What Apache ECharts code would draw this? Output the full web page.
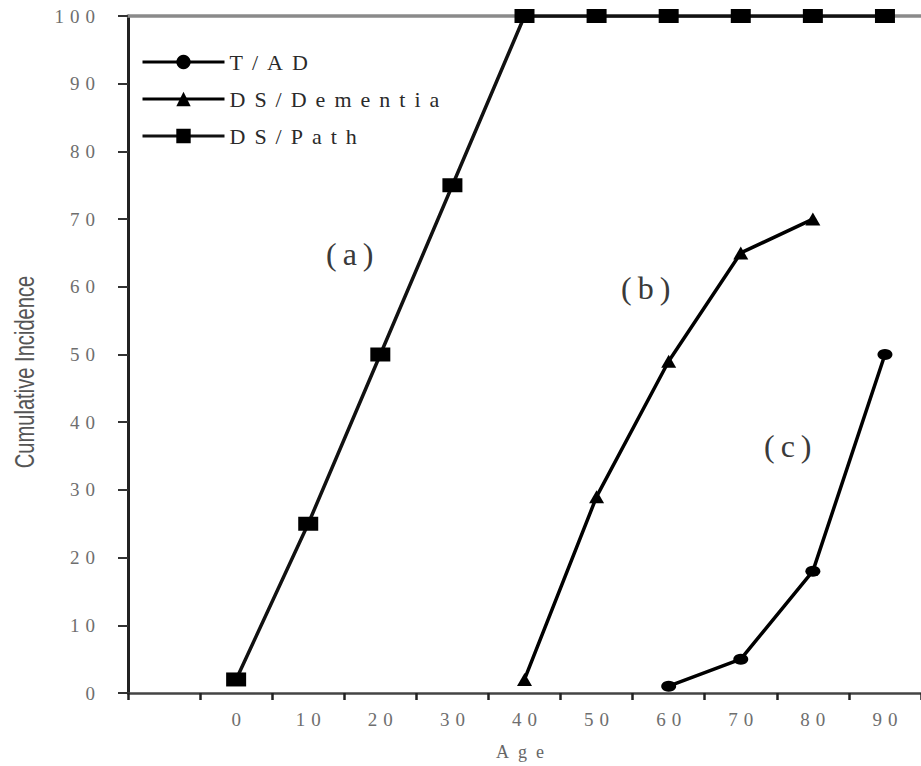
<!DOCTYPE html>
<html>
<head>
<meta charset="utf-8">
<script src="https://cdn.jsdelivr.net/npm/echarts@6/dist/echarts.min.js"></script>
<style>
  html, body { margin: 0; padding: 0; background: #fff; }
  #chart { width: 921px; height: 766px; }
  #chart svg text[style*="19px"] { letter-spacing: 6px; }
  #chart svg text[style*="22px"] { letter-spacing: 9px; }
  #chart svg text[style*="18px"] { letter-spacing: 9px; }
  #chart svg text[style*="32px"] { letter-spacing: 6px; }
</style>
</head>
<body>
<div id="chart"></div>
<script>
// Age categories (first band is an empty lead-in band)
const categories = ['', '0', '10', '20', '30', '40', '50', '60', '70', '80', '90'];
const seriesNames = ['T/AD', 'DS/Dementia', 'DS/Path'];
const tadValues      = [null, null, null, null, null, null, null, 1, 5, 18, 50];
const dementiaValues = [null, null, null, null, null, 2, 29, 49, 65, 70, null];
const pathValues     = [null, 2, 25, 50, 75, 100, 100, 100, 100, 100, 100];
const yTicks = [0, 10, 20, 30, 40, 50, 60, 70, 80, 90, 100];
const yTitle = 'Cumulative Incidence';
const annotations = ['(a)', '(b)', '(c)'];

const serif = '"Liberation Serif", "DejaVu Serif", serif';
const chart = echarts.init(document.getElementById('chart'), null, { renderer: 'svg' });

chart.setOption({
  backgroundColor: '#ffffff',
  animation: false,
  grid: { left: 128, right: -10, top: 16, bottom: 69, containLabel: false },
  legend: {
    orient: 'vertical',
    left: 136,
    top: 46,
    itemWidth: 82,
    itemHeight: 18,
    itemGap: 15,
    data: seriesNames,
    lineStyle: { width: 3 },
    textStyle: { fontFamily: serif, fontSize: 22, color: '#2a2a2a' },
    inactiveColor: '#333'
  },
  xAxis: [{
    type: 'category',
    data: categories,
    boundaryGap: true,
    name: 'Age',
    nameLocation: 'middle',
    nameGap: 50,
    nameTextStyle: { fontFamily: serif, fontSize: 18, color: '#666' },
    axisLine: { lineStyle: { color: '#444', width: 2.5 } },
    axisTick: { show: true, interval: 0, length: 7, lineStyle: { color: '#222', width: 2.5 } },
    axisLabel: { interval: 0, margin: 17, padding: [0, 0, 0, 6], fontFamily: serif, fontSize: 19, color: '#6e6e6e' },
    splitLine: { show: false }
  }, {
    type: 'category',
    data: categories,
    position: 'top',
    boundaryGap: true,
    axisLine: { show: true, lineStyle: { color: '#8a8a8a', width: 3.5 } },
    axisTick: { show: false },
    axisLabel: { show: false },
    splitLine: { show: false }
  }],
  yAxis: {
    type: 'value',
    min: yTicks[0],
    max: yTicks[yTicks.length - 1],
    interval: 10,
    axisLine: { show: true, lineStyle: { color: '#222', width: 3 } },
    axisTick: { show: true, length: 10, lineStyle: { color: '#333', width: 2 } },
    axisLabel: { margin: 27, fontFamily: serif, fontSize: 19, color: '#6e6e6e' },
    splitLine: { show: false }
  },
  series: [{
    name: seriesNames[0],
    type: 'line',
    data: tadValues,
    symbol: 'circle',
    symbolSize: [15, 11],
    itemStyle: { color: '#000' },
    lineStyle: { color: '#000', width: 3.5 },
    z: 5
  }, {
    name: seriesNames[1],
    type: 'line',
    data: dementiaValues,
    symbol: 'triangle',
    symbolSize: [15, 13],
    itemStyle: { color: '#000' },
    lineStyle: { color: '#000', width: 3.5 },
    z: 5
  }, {
    name: seriesNames[2],
    type: 'line',
    data: pathValues,
    symbol: 'rect',
    symbolSize: [20, 14],
    itemStyle: { color: '#000' },
    lineStyle: { color: '#111', width: 3.5 },
    z: 4
  }],
  graphic: [
    {
      type: 'text', x: 24, y: 372, rotation: Math.PI / 2, scaleX: 0.72,
      style: {
        text: yTitle, font: '28px "Liberation Sans", Arial, sans-serif',
        fill: '#555', align: 'center', verticalAlign: 'middle'
      }
    },
    { type: 'text', left: 326, top: 238, style: { text: annotations[0], font: '32px ' + serif, fill: '#3a3a3a' } },
    { type: 'text', left: 621, top: 272, style: { text: annotations[1], font: '32px ' + serif, fill: '#3a3a3a' } },
    { type: 'text', left: 764, top: 430, style: { text: annotations[2], font: '32px ' + serif, fill: '#3a3a3a' } }
  ]
});
</script>
</body>
</html>
